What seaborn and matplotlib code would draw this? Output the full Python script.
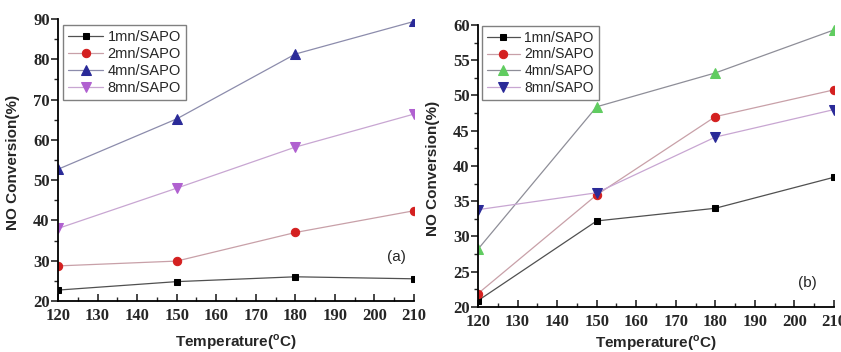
import matplotlib
matplotlib.use("Agg")
import matplotlib.pyplot as plt
import numpy as np
import pandas as pd
import seaborn as sns
from matplotlib.ticker import MultipleLocator

sns.set_style("ticks")
plt.rcParams["font.family"] = ["Liberation Sans", "DejaVu Sans"]

temperature = [120, 150, 180, 210]
series_names = ["1mn/SAPO", "2mn/SAPO", "4mn/SAPO", "8mn/SAPO"]

# panel (a)
conv_a_1mn = [22.7, 24.8, 26.0, 25.5]
conv_a_2mn = [28.7, 29.9, 37.0, 42.4]
conv_a_4mn = [52.7, 65.2, 81.3, 89.4]
conv_a_8mn = [38.0, 48.0, 58.2, 66.4]

# panel (b)
conv_b_1mn = [20.9, 32.2, 34.0, 38.4]
conv_b_2mn = [21.9, 35.9, 47.0, 50.8]
conv_b_4mn = [28.2, 48.4, 53.2, 59.3]
conv_b_8mn = [33.8, 36.2, 44.1, 48.0]

markers = ["s", "o", "^", "v"]
marker_sizes = [5, 6, 6.5, 6.5]
line_colors_a = ["#505050", "#c8a0a8", "#8c8cac", "#c8a6d2"]
line_colors_b = ["#505050", "#c8a0a8", "#8e8e98", "#c8a6d2"]
face_colors_a = ["#000000", "#d42020", "#2a2a98", "#b060d0"]
face_colors_b = ["#000000", "#d42020", "#60cc60", "#2a2a98"]


def make_frame(values):
    rows = []
    for name, vals in zip(series_names, values):
        for t, v in zip(temperature, vals):
            rows.append({"Temperature": t, "Conversion": v, "Series": name})
    return pd.DataFrame(rows)


def draw_panel(ax, df, line_colors, face_colors, ylim, ymajor, yminor, tag, tag_pos,
               legend_anchor, legend_size, xlabel_y):
    for name, mk, ms, lc, fc in zip(series_names, markers, marker_sizes, line_colors, face_colors):
        sub = df[df["Series"] == name]
        sns.lineplot(
            data=sub, x="Temperature", y="Conversion", ax=ax, color=lc, linewidth=0.9,
            marker=mk, markersize=ms, markerfacecolor=fc, markeredgecolor=fc,
            label=name, estimator=None,
        )
    ax.set_xlim(120, 210)
    ax.set_ylim(*ylim)
    ax.xaxis.set_major_locator(MultipleLocator(10))
    ax.xaxis.set_minor_locator(MultipleLocator(5))
    ax.yaxis.set_major_locator(MultipleLocator(ymajor))
    ax.yaxis.set_minor_locator(MultipleLocator(yminor))
    ax.tick_params(axis="x", which="major", direction="in", length=5, width=1.2, pad=5,
                   labelsize=12, labelfontfamily="Liberation Serif")
    ax.tick_params(axis="x", which="minor", direction="in", length=3, width=1.0)
    ax.tick_params(axis="y", which="major", direction="out", length=5, width=1.2, pad=1,
                   labelsize=12, labelfontfamily="Liberation Serif")
    ax.tick_params(axis="y", which="minor", direction="out", length=3, width=1.0)
    for side in ["top", "right"]:
        ax.spines[side].set_visible(False)
    for side in ["left", "bottom"]:
        ax.spines[side].set_linewidth(1.3)
        ax.spines[side].set_color("black")
    ax.set_xlabel("Temperature($^{\\mathregular{o}}$C)", fontsize=11, fontweight="bold")
    ax.set_ylabel("NO Conversion(%)", fontsize=11, fontweight="bold")
    ax.xaxis.set_label_coords(0.5, xlabel_y)
    ax.yaxis.set_label_coords(-0.107, 0.49)
    ax.text(tag_pos[0], tag_pos[1], tag, transform=ax.transAxes, fontsize=11, ha="center", va="center")
    leg = ax.legend(loc="upper left", bbox_to_anchor=legend_anchor, borderaxespad=0,
                    fontsize=legend_size, frameon=True, fancybox=False, framealpha=1,
                    edgecolor="#808080", handlelength=2.4, handletextpad=0.3,
                    labelspacing=0.2, borderpad=0.35)
    leg.get_frame().set_linewidth(1.0)


fig = plt.figure(figsize=(8.41, 3.52), dpi=100)
ax_a = fig.add_axes([0.069, 0.145, 0.4233, 0.801])
ax_b = fig.add_axes([0.5684, 0.128, 0.4233, 0.801])

df_a = make_frame([conv_a_1mn, conv_a_2mn, conv_a_4mn, conv_a_8mn])
df_b = make_frame([conv_b_1mn, conv_b_2mn, conv_b_4mn, conv_b_8mn])

draw_panel(ax_a, df_a, line_colors_a, face_colors_a, (20, 90), 10, 5, "(a)", (0.95, 0.155),
           (0.014, 0.979), 10.5, -0.112)
draw_panel(ax_b, df_b, line_colors_b, face_colors_b, (20, 60), 5, 2.5, "(b)", (0.925, 0.085),
           (0.011, 0.997), 10, -0.095)

fig.canvas.draw()
for ax in (ax_a, ax_b):
    for lbl in ax.get_xticklabels() + ax.get_yticklabels():
        lbl.set_fontweight("bold")

fig.savefig("out.png", dpi=100)
